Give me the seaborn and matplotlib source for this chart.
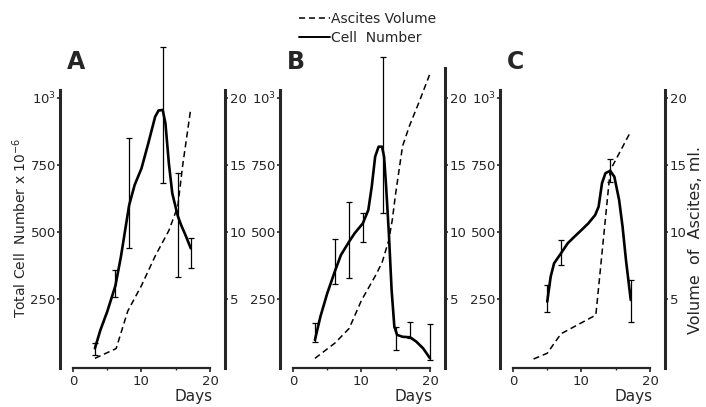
import numpy as np
import matplotlib
matplotlib.use("Agg")
import matplotlib.pyplot as plt
from matplotlib.lines import Line2D
import seaborn as sns

# ---- values (cell number x10^-6, ascites volume in ml) ----
# Panel A
a_cell_days = [3.2, 4, 5, 6.2, 7, 8.2, 9, 10, 11, 12, 12.5, 13.1, 13.5, 14, 14.5, 15.3, 15.8, 16.4, 17.2]
a_cell_vals = [66, 134, 203, 300, 408, 600, 675, 737, 831, 930, 953, 955, 905, 756, 644, 560, 525, 490, 439]
a_err_days = [3.2, 6.2, 8.2, 13.2, 15.3, 17.2]
a_err_low = [41, 259, 439, 682, 333, 364]
a_err_high = [87, 358, 849, 1191, 719, 476]
a_vol_days = [3.2, 6.3, 8, 10, 12, 14, 15.3, 16, 17.2]
a_vol_ml = [0.57, 1.3, 4.1, 6.0, 8.2, 10.1, 11.9, 14.9, 19.2]

# Panel B
b_cell_days = [3.2, 4, 5, 6.1, 7, 8.2, 9, 10.2, 11, 11.5, 12, 12.5, 13, 13.3, 13.6, 14, 14.4, 14.8, 15.2, 16, 17.1, 18, 19, 20]
b_cell_vals = [97, 184, 271, 352, 414, 464, 495, 532, 582, 669, 781, 818, 818, 781, 669, 495, 284, 147, 116, 109, 107, 91, 66, 29]
b_err_days = [3.2, 6.1, 8.2, 10.2, 13.2, 15.0, 17.1, 20]
b_err_low = [91, 306, 327, 464, 570, 60, 103, 22]
b_err_high = [159, 473, 611, 572, 1154, 147, 165, 157]
b_vol_days = [3.2, 6.1, 8.2, 10, 12, 13, 14, 14.5, 15, 16, 17, 18.5, 20]
b_vol_ml = [0.57, 1.7, 2.8, 4.9, 6.7, 7.7, 9.4, 10.9, 12.9, 16.4, 17.9, 19.8, 21.8]

# Panel C
c_cell_days = [5, 5.5, 6, 7, 8, 9, 10, 11, 12, 12.5, 13, 13.5, 14.2, 14.8, 15.5, 16, 16.5, 17.2]
c_cell_vals = [240, 333, 383, 420, 458, 483, 507, 532, 563, 594, 682, 719, 728, 706, 619, 520, 395, 246]
c_err_days = [5.0, 7.0, 14.2, 17.2]
c_err_low = [203, 377, 688, 165]
c_err_high = [302, 470, 772, 321]
c_vol_days = [3, 5, 7, 12.1, 14.2, 17.2]
c_vol_ml = [0.52, 0.95, 2.4, 3.8, 14.6, 17.5]

panel_letters = ["A", "B", "C"]
left_ticks = [250, 500, 750, 1000]
left_ticklabels = ["250", "500", "750", "10$^3$"]
right_ticks = [5, 10, 15, 20]
x_ticks = [0, 10, 20]
x_minor = [5, 15]

panels = [
    (a_cell_days, a_cell_vals, a_err_days, a_err_low, a_err_high, a_vol_days, a_vol_ml),
    (b_cell_days, b_cell_vals, b_err_days, b_err_low, b_err_high, b_vol_days, b_vol_ml),
    (c_cell_days, c_cell_vals, c_err_days, c_err_low, c_err_high, c_vol_days, c_vol_ml),
]

sns.set_style("ticks")
plt.rcParams["font.family"] = ["DejaVu Sans"]
plt.rcParams["font.size"] = 10

fig = plt.figure(figsize=(7.06, 4.07), dpi=100)

ylo, yhi = -7.5, 1104
lefts = [60, 280, 500]
right_tops = [20.6, 22.2, 20.6]

for i, (cd, cv, ed, el, eh, vd, vm) in enumerate(panels):
    ax = fig.add_axes([lefts[i] / 706, 39 / 407, 165 / 706, 298 / 407])
    ax.set_xlim(-1.9, 22.2)
    ax.set_ylim(ylo, yhi)

    # cell number, solid
    sns.lineplot(x=cd, y=cv, ax=ax, color="black", linewidth=1.9, sort=False,
                 estimator=None, clip_on=False)
    mid = np.interp(ed, cd, cv)
    ax.errorbar(ed, mid, yerr=[mid - np.array(el), np.array(eh) - mid],
                fmt="none", ecolor="black", elinewidth=0.9, capsize=2,
                capthick=0.9, clip_on=False)

    # ascites volume on right axis, dashed
    ax2 = ax.twinx()
    ax2.set_ylim(ylo / 50, yhi / 50)
    sns.lineplot(x=vd, y=vm, ax=ax2, color="black", linewidth=1.1,
                 linestyle=(0, (4, 2.5)), sort=False, estimator=None, clip_on=False)

    for s in ["top", "right"]:
        ax.spines[s].set_visible(False)
    for s in ["top", "left", "bottom"]:
        ax2.spines[s].set_visible(False)
    ax.spines["left"].set_linewidth(2.2)
    ax2.spines["right"].set_linewidth(2.2)
    ax.spines["bottom"].set_linewidth(1.6)
    ax.spines["left"].set_bounds(ylo, 1030)
    ax.spines["bottom"].set_bounds(0, 20)
    ax2.spines["right"].set_bounds(ylo / 50, right_tops[i])

    ax.set_xticks(x_ticks)
    ax.set_xticks(x_minor, minor=True)
    ax.set_yticks(left_ticks)
    ax.set_yticklabels(left_ticklabels)
    ax2.set_yticks(right_ticks)
    ax.tick_params(axis="x", length=3, width=1.2, labelsize=9.5, pad=2)
    ax.tick_params(axis="x", which="minor", length=1.5, width=1)
    ax.tick_params(axis="y", length=2, width=1.2, labelsize=9.5, pad=1)
    ax2.tick_params(axis="y", length=2, width=1.2, labelsize=9.5, pad=1.5)
    ax.set_xlabel("")
    ax.set_ylabel("")
    ax2.set_ylabel("")

    ax.text(20.4, -115, "Days", ha="right", va="center", fontsize=11)
    ax.text(-0.9, 1134, panel_letters[i], fontsize=17, fontweight="bold",
            ha="left", va="center")

fig.text(20 / 706, 1 - 228 / 407, "Total Cell  Number x 10$^{-6}$",
         rotation=90, ha="center", va="center", fontsize=10)
fig.text(696 / 706, 1 - 240 / 407, "Volume  of  Ascites, ml.",
         rotation=90, ha="center", va="center", fontsize=11.5)

handles = [Line2D([], [], color="black", linewidth=1.1, linestyle=(0, (4, 2.5))),
           Line2D([], [], color="black", linewidth=1.4)]
fig.legend(handles, ["Ascites Volume", "Cell  Number"], loc="upper left",
           bbox_to_anchor=(291 / 706, 1 - 4 / 407), frameon=False, fontsize=10,
           handlelength=2.2, handletextpad=0.1, labelspacing=0.3,
           borderaxespad=0.2)

fig.savefig("out.png", dpi=100)
